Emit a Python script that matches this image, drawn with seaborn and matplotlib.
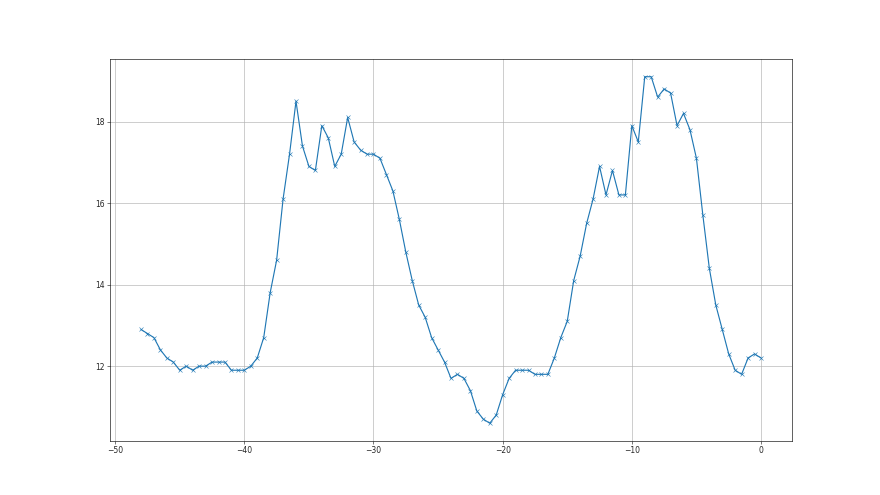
import numpy as np
import pandas as pd
import matplotlib
matplotlib.use('Agg')
import matplotlib.pyplot as plt
import seaborn as sns

# %% data
x_start = -48.0
x_step = 0.5
values = [12.9, 12.8, 12.7, 12.4, 12.2, 12.1, 11.9, 12.0, 11.9, 12.0,
          12.0, 12.1, 12.1, 12.1, 11.9, 11.9, 11.9, 12.0, 12.2, 12.7,
          13.8, 14.6, 16.1, 17.2, 18.5, 17.4, 16.9, 16.8, 17.9, 17.6,
          16.9, 17.2, 18.1, 17.5, 17.3, 17.2, 17.2, 17.1, 16.7, 16.3,
          15.6, 14.8, 14.1, 13.5, 13.2, 12.7, 12.4, 12.1, 11.7, 11.8,
          11.7, 11.4, 10.9, 10.7, 10.6, 10.8, 11.3, 11.7, 11.9, 11.9,
          11.9, 11.8, 11.8, 11.8, 12.2, 12.7, 13.1, 14.1, 14.7, 15.5,
          16.1, 16.9, 16.2, 16.8, 16.2, 16.2, 17.9, 17.5, 19.1, 19.1,
          18.6, 18.8, 18.7, 17.9, 18.2, 17.8, 17.1, 15.7, 14.4, 13.5,
          12.9, 12.3, 11.9, 11.8, 12.2, 12.3, 12.2]
xs = [x_start + i * x_step for i in range(len(values))]
df = pd.DataFrame({'x': xs, 'y': values})

# %% plot
sns.set_style('ticks')
plt.rcParams['font.family'] = ['DejaVu Sans']
fig, ax = plt.subplots(figsize=(16, 9), dpi=55)
sns.lineplot(data=df, x='x', y='y', ax=ax, color='#1f77b4',
             marker='x', markersize=6, markeredgecolor='#1f77b4',
             linewidth=1.5)
ax.grid(True, color='#b0b0b0', linewidth=0.8)
ax.set_xticks([-50, -40, -30, -20, -10, 0])
ax.set_yticks([12, 14, 16, 18])
ax.set_xlabel('')
ax.set_ylabel('')
for s in ax.spines.values():
    s.set_color('black')
    s.set_linewidth(0.8)
fig.savefig('out.png', dpi=55)
